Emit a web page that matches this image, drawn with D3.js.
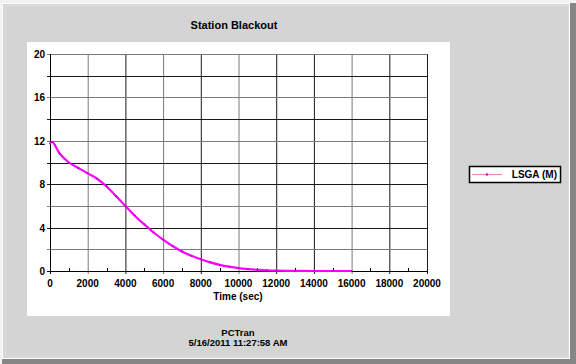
<!DOCTYPE html>
<html>
<head>
<meta charset="utf-8">
<title>Station Blackout</title>
<script src="https://cdn.jsdelivr.net/npm/d3@7"></script>
<style>
	html, body {
		margin: 0;
		padding: 0;
		background: #f2f2f2;
	}
	svg text {
		font-family: "Liberation Sans", Arial, sans-serif;
		font-weight: bold;
	}
</style>
</head>
<body>
<div id="chart"></div>
<script>
const timeSec = [0, 100, 500, 1000, 1500, 2000, 2500, 3000, 3500, 4000, 4500, 5000, 5500, 6000,
	6500, 7000, 7500, 8000, 8500, 9000, 9500, 10000, 10500, 11000, 11500, 12000, 13000, 14000, 15000, 16000];
const lsgaValues = [11.75, 11.9, 10.85, 10.0, 9.5, 9.0, 8.5, 7.8, 6.9, 6.0, 5.1, 4.3, 3.55, 2.9,
	2.3, 1.8, 1.4, 1.08, 0.8, 0.57, 0.4, 0.27, 0.18, 0.11, 0.06, 0.03, 0.01, 0, 0, 0];
const xTicks = [0, 2000, 4000, 6000, 8000, 10000, 12000, 14000, 16000, 18000, 20000];
const xMinorTicks = [1000, 3000, 5000, 7000, 9000, 11000, 13000, 15000, 17000, 19000];
const yTicks = [0, 4, 8, 12, 16, 20];
const yGrid = [0, 2, 4, 6, 8, 10, 12, 14, 16, 18, 20];
const seriesName = "LSGA (M)";
const chartTitle = "Station Blackout";
const xTitle = "Time (sec)";
const footerLines = ["PCTran", "5/16/2011 11:27:58 AM"];

const data = timeSec.map((t, i) => ({ t: t, v: lsgaValues[i] }));

const
	width = 576,
	height = 364;

const plot = { left: 50, right: 427, top: 54, bottom: 271 };

const svg = d3.select("#chart")
	.append("svg")
	.attr("width", width)
	.attr("height", height);

// window frame
svg.append("rect")
	.attr("x", 2).attr("y", 3)
	.attr("width", 574).attr("height", 361)
	.attr("fill", "#868686");
svg.append("rect")
	.attr("x", 2).attr("y", 3)
	.attr("width", 568).attr("height", 356)
	.attr("fill", "#ffffff");
svg.append("rect")
	.attr("x", 3).attr("y", 4)
	.attr("width", 566).attr("height", 354)
	.attr("fill", "#d4d4d4");
svg.append("rect")
	.attr("x", 6).attr("y", 6)
	.attr("width", 562).attr("height", 350)
	.attr("fill", "none")
	.attr("stroke", "#e8e8e8")
	.attr("stroke-width", 1);
svg.append("rect")
	.attr("x", 6).attr("y", 6)
	.attr("width", 562).attr("height", 350)
	.attr("fill", "#d4d4d4");

// white chart panel
svg.append("rect")
	.attr("x", 27).attr("y", 42)
	.attr("width", 423).attr("height", 274)
	.attr("fill", "#ffffff");

svg.append("text")
	.attr("x", 234)
	.attr("y", 29)
	.attr("text-anchor", "middle")
	.style("font-size", "11px")
	.text(chartTitle);

const x = d3.scaleLinear()
	.domain([0, 20000])
	.range([plot.left, plot.right]);

const y = d3.scaleLinear()
	.domain([0, 20])
	.range([plot.bottom, plot.top]);

const grayX = [2000, 6000, 10000, 16000];
const grayY = [2, 6, 12, 16, 20];

// grid
svg.append("g")
	.selectAll("line")
	.data(xTicks)
	.enter()
	.append("line")
	.attr("x1", d => x(d) + 0.5)
	.attr("x2", d => x(d) + 0.5)
	.attr("y1", plot.top)
	.attr("y2", plot.bottom + 3)
	.attr("stroke", d => grayX.includes(d) ? "#7a7a7a" : "#1a1a1a")
	.attr("stroke-width", 1);

svg.append("g")
	.selectAll("line")
	.data(yGrid)
	.enter()
	.append("line")
	.attr("x1", plot.left - 3)
	.attr("x2", plot.right + 0.5)
	.attr("y1", d => Math.round(y(d)) + 0.5)
	.attr("y2", d => Math.round(y(d)) + 0.5)
	.attr("stroke", d => grayY.includes(d) ? "#7a7a7a" : "#1a1a1a")
	.attr("stroke-width", 1);

// minor x ticks above axis
svg.append("g")
	.selectAll("line")
	.data(xMinorTicks)
	.enter()
	.append("line")
	.attr("x1", d => Math.round(x(d)) + 0.5)
	.attr("x2", d => Math.round(x(d)) + 0.5)
	.attr("y1", plot.bottom - 3)
	.attr("y2", plot.bottom)
	.attr("stroke", "#000");

// axis lines
svg.append("line")
	.attr("x1", plot.left + 0.5).attr("x2", plot.left + 0.5)
	.attr("y1", plot.top).attr("y2", plot.bottom + 3)
	.attr("stroke", "#000");
svg.append("line")
	.attr("x1", plot.left - 3).attr("x2", plot.right + 0.5)
	.attr("y1", plot.bottom + 0.5).attr("y2", plot.bottom + 0.5)
	.attr("stroke", "#000");

// tick labels
svg.append("g")
	.selectAll("text")
	.data(yTicks)
	.enter()
	.append("text")
	.attr("x", plot.left - 5)
	.attr("y", d => y(d) + 4)
	.attr("text-anchor", "end")
	.style("font-size", "10px")
	.text(d => d);

svg.append("g")
	.selectAll("text")
	.data(xTicks)
	.enter()
	.append("text")
	.attr("x", d => x(d))
	.attr("y", 287)
	.attr("text-anchor", "middle")
	.style("font-size", "10px")
	.text(d => d);

svg.append("text")
	.attr("x", 238)
	.attr("y", 300)
	.attr("text-anchor", "middle")
	.style("font-size", "10px")
	.text(xTitle);

// series
const line = d3.line()
	.x(d => x(d.t))
	.y(d => y(d.v))
	.curve(d3.curveMonotoneX);

svg.append("path")
	.datum(data)
	.attr("d", line)
	.attr("fill", "none")
	.attr("stroke", "#ff00ff")
	.attr("stroke-width", 2.2);

svg.append("g")
	.selectAll("circle")
	.data(data)
	.enter()
	.append("circle")
	.attr("cx", d => x(d.t))
	.attr("cy", d => y(d.v))
	.attr("r", 1)
	.attr("fill", "#c000c0");

// legend
const legend = svg.append("g");
legend.append("rect")
	.attr("x", 469.5).attr("y", 166.5)
	.attr("width", 91).attr("height", 16)
	.attr("fill", "#ffffff")
	.attr("stroke", "#000")
	.attr("stroke-width", 1.5);
legend.append("line")
	.attr("x1", 472).attr("x2", 502)
	.attr("y1", 174.5).attr("y2", 174.5)
	.attr("stroke", "#e890a8")
	.attr("stroke-width", 1.2);
legend.append("circle")
	.attr("cx", 487).attr("cy", 174.5)
	.attr("r", 1.2)
	.attr("fill", "#e000e0");
legend.append("text")
	.attr("x", 557)
	.attr("y", 178)
	.attr("text-anchor", "end")
	.style("font-size", "10px")
	.text(seriesName);

// footer
svg.append("g")
	.selectAll("text")
	.data(footerLines)
	.enter()
	.append("text")
	.attr("x", 238)
	.attr("y", (d, i) => 336 + i * 10)
	.attr("text-anchor", "middle")
	.style("font-size", "9.5px")
	.text(d => d);
</script>
</body>
</html>
